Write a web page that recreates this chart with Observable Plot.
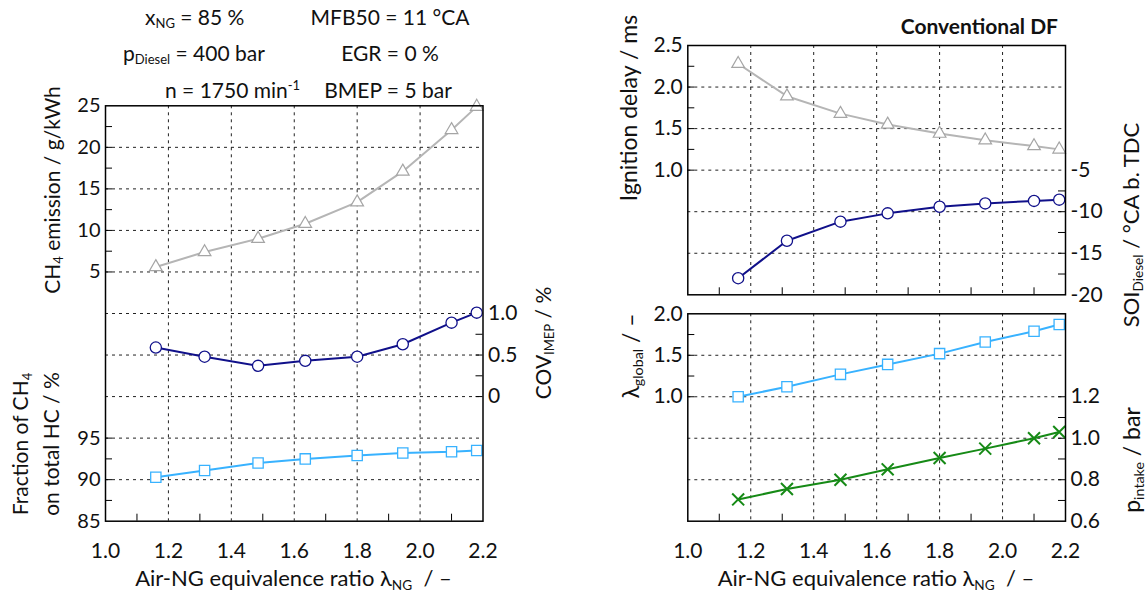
<!DOCTYPE html>
<html><head><meta charset="utf-8">
<script src="https://cdn.jsdelivr.net/npm/d3@7"></script>
<script src="https://cdn.jsdelivr.net/npm/@observablehq/plot@0.6"></script>
<style>
body{margin:0;background:#fff;}
#wrap{position:relative;width:1147px;height:599px;overflow:hidden;font-family:Lato,"Open Sans",sans-serif;color:#111;}
#wrap svg{position:absolute;left:0;top:0;}
.t{position:absolute;white-space:nowrap;font-size:21px;line-height:1;}
.c{transform:translate(-50%,-50%);}
.l{transform:translate(0,-50%);}
.r{transform:translate(-100%,-50%);}
.rot{transform:translate(-50%,-50%) rotate(-90deg);text-align:center;}
sub{font-size:0.62em;vertical-align:-0.3em;line-height:0;}
sup{font-size:0.62em;vertical-align:0.55em;line-height:0;}
</style></head>
<body>
<div id="wrap">
  <div class="t l" style="left:145px;top:16px">x<sub>NG</sub> = 85 %</div>
  <div class="t c" style="left:390px;top:16px">MFB50 = 11 °CA</div>
  <div class="t l" style="left:123px;top:52px">p<sub>Diesel</sub> = 400 bar</div>
  <div class="t c" style="left:390px;top:52px">EGR = 0 %</div>
  <div class="t l" style="left:165px;top:89px">n = 1750 min<sup>-1</sup></div>
  <div class="t c" style="left:388px;top:89px">BMEP = 5 bar</div>
  <div class="t r" style="left:1058px;top:25px;font-weight:bold;font-size:21px">Conventional DF</div>

  <div class="t rot" style="left:51px;top:190px">CH<sub>4</sub> emission / g/kWh</div>
  <div class="t rot" style="left:35px;top:444px;line-height:31px">Fraction of CH<sub>4</sub><br>on total HC / %</div>
  <div class="t rot" style="left:542px;top:343px">COV<sub>IMEP</sub> / %</div>
  <div class="t c" style="left:293.5px;top:578px;font-size:22px">Air-NG equivalence ratio λ<sub>NG</sub> &nbsp;/ –</div>

  <div class="t rot" style="left:628px;top:108px;font-size:23px">Ignition delay / ms</div>
  <div class="t rot" style="left:1131px;top:225px;font-size:22px">SOI<sub>Diesel</sub> / °CA b. TDC</div>
  <div class="t rot" style="left:630px;top:356px;font-size:23px">λ<sub>global</sub> / –</div>
  <div class="t rot" style="left:1131px;top:460px;font-size:23px">p<sub>intake</sub> / bar</div>
  <div class="t c" style="left:876px;top:578px;font-size:22px">Air-NG equivalence ratio λ<sub>NG</sub> &nbsp;/ –</div>
</div>
<script>
// ---- data ----
const lambdaNG      = [1.16, 1.315, 1.485, 1.635, 1.80, 1.945, 2.10, 2.18];
const ch4Emission   = [5.6, 7.4, 9.0, 10.8, 13.4, 17.1, 22.1, 24.9];
const covImep       = [0.59, 0.48, 0.37, 0.43, 0.48, 0.63, 0.89, 1.01];
const ch4Fraction   = [90.3, 91.1, 92.0, 92.5, 92.9, 93.2, 93.35, 93.5];
const ignitionDelay = [2.28, 1.89, 1.68, 1.55, 1.44, 1.36, 1.29, 1.25];
const soiDiesel     = [-18.0, -13.5, -11.2, -10.2, -9.4, -9.0, -8.7, -8.55];
const lambdaGlobal  = [1.0, 1.12, 1.27, 1.39, 1.52, 1.66, 1.79, 1.87];
const pIntake       = [0.705, 0.755, 0.80, 0.85, 0.905, 0.95, 1.0, 1.03];

// ---- ticks ----
const xTicks = [1.0, 1.2, 1.4, 1.6, 1.8, 2.0, 2.2];
const xGrid = [1.2, 1.4, 1.6, 1.8, 2.0];
const xMinor = [1.1, 1.3, 1.5, 1.7, 1.9, 2.1];
const ch4Ticks = [5, 10, 15, 20, 25];
const ch4Grid = [5, 10, 15, 20];
const ch4Minor = [7.5, 12.5, 17.5, 22.5];
const covTicks = [0, 0.5, 1.0];
const covMinor = [0.25, 0.75];
const fracTicks = [85, 90, 95];
const fracGrid = [90, 95];
const fracMinor = [87.5, 92.5];
const idTicks = [1.0, 1.5, 2.0, 2.5];
const idGrid = [1.0, 1.5, 2.0];
const idMinor = [1.25, 1.75, 2.25];
const soiTicks = [-20, -15, -10, -5];
const soiGrid = [-15, -10];
const soiMinor = [-17.5, -12.5, -7.5];
const lgTicks = [1.0, 1.5, 2.0];
const lgGrid = [1.0, 1.5];
const lgMinor = [1.25, 1.75];
const pTicks = [0.6, 0.8, 1.0, 1.2];
const pGrid = [0.8, 1.0];
const pMinor = [0.7, 0.9, 1.1];

// ---- colours ----
const cGray = "#b5b5b5", cGrayM = "#a5a5a5", cNavy = "#10108a", cLight = "#38b2ff", cGreen = "#168a16";

const W = 1147, H = 599;
const leftBox = {l: 105, r: 482.5, t: 105.3, b: 520.7};
const upBox   = {l: 687.3, r: 1065, t: 45, b: 294.3};
const lowBox  = {l: 687.3, r: 1065, t: 313.3, b: 520.7};
const FONT = "Lato, 'Open Sans', sans-serif";
const dash = "3,4";
const gridColor = "#222";

const rows = lambdaNG.map((x, i) => ({x, ch4: ch4Emission[i], cov: covImep[i], frac: ch4Fraction[i],
  id: ignitionDelay[i], soi: soiDiesel[i], lg: lambdaGlobal[i], p: pIntake[i]}));

function layer(box, yDomain, marks) {
  return Plot.plot({
    width: W, height: H,
    marginLeft: box.l, marginRight: W - box.r, marginTop: box.t, marginBottom: H - box.b,
    x: {domain: [1, 2.2], axis: null},
    y: {domain: yDomain, axis: null},
    style: {background: "transparent", fontFamily: FONT, fontSize: "20px", color: "#111", overflow: "visible"},
    marks
  });
}
const pw = b => b.r - b.l, ph = b => b.b - b.t;
const TK = 7;
const leftTicks = (vals, b) => Plot.tickY(vals, {y: d => d, insetRight: pw(b) - TK, stroke: "#000", strokeWidth: 1});
const rightTicks = (vals, b) => Plot.tickY(vals, {y: d => d, insetLeft: pw(b) - TK, stroke: "#000", strokeWidth: 1});
const bottomTicks = (vals, b) => Plot.tickX(vals, {x: d => d, insetTop: ph(b) - TK, stroke: "#000", strokeWidth: 1});
const gridY = vals => Plot.ruleY(vals, {y: d => d, stroke: gridColor, strokeWidth: 1, strokeDasharray: dash});
const gridX = vals => Plot.ruleX(vals, {x: d => d, stroke: gridColor, strokeWidth: 1, strokeDasharray: dash});
const yLab = (vals, anchor, fmt, size = 20) => Plot.axisY(vals, {anchor, label: null, tickSize: 0, tickPadding: 5, tickFormat: fmt, fontSize: size, fill: "#111"});
const xLab = vals => Plot.axisX(vals, {anchor: "bottom", label: null, tickSize: 0, tickPadding: 22, tickFormat: d => d.toFixed(1), fontSize: 21, fill: "#111"});
const f1 = d => d.toFixed(1);
const fCov = d => d === 0 ? "0" : d.toFixed(1);
const fInt = d => String(d);

const wrap = document.getElementById("wrap");

// ---- left panel ----
wrap.append(layer(leftBox, [-25, 25], [
  gridX(xGrid), gridY(ch4Grid),
  leftTicks(ch4Minor, leftBox), leftTicks(ch4Grid, leftBox), bottomTicks(xMinor, leftBox),
  yLab(ch4Ticks, "left", fInt), xLab(xTicks),
  Plot.line(rows, {x: "x", y: "ch4", stroke: cGray, strokeWidth: 2}),
  Plot.dot(rows, {x: "x", y: "ch4", symbol: "triangle", r: 4.7, fill: "white", stroke: cGrayM, strokeWidth: 1.2})
]));
wrap.append(layer(leftBox, [-1.5, 3.5], [
  gridY(covTicks), rightTicks(covMinor, leftBox), rightTicks(covTicks, leftBox),
  yLab(covTicks, "right", fCov, 21),
  Plot.line(rows, {x: "x", y: "cov", stroke: cNavy, strokeWidth: 2}),
  Plot.dot(rows, {x: "x", y: "cov", symbol: "circle", r: 5.6, fill: "white", stroke: cNavy, strokeWidth: 1.3})
]));
wrap.append(layer(leftBox, [85, 135], [
  gridY(fracGrid), leftTicks(fracMinor, leftBox), leftTicks(fracGrid, leftBox),
  yLab(fracTicks, "left", fInt),
  Plot.line(rows, {x: "x", y: "frac", stroke: cLight, strokeWidth: 2}),
  Plot.dot(rows, {x: "x", y: "frac", symbol: "square", r: 5.8, fill: "white", stroke: cLight, strokeWidth: 1.3}),
  Plot.frame({stroke: "#000", strokeWidth: 1.5})
]));

// ---- right upper panel ----
wrap.append(layer(upBox, [-0.5, 2.5], [
  gridX(xGrid), gridY(idGrid),
  leftTicks(idMinor, upBox), leftTicks(idGrid, upBox), bottomTicks(xMinor, upBox),
  yLab(idTicks, "left", f1, 21),
  Plot.line(rows, {x: "x", y: "id", stroke: cGray, strokeWidth: 2}),
  Plot.dot(rows, {x: "x", y: "id", symbol: "triangle", r: 4.7, fill: "white", stroke: cGrayM, strokeWidth: 1.2})
]));
wrap.append(layer(upBox, [-20, 10], [
  gridY(soiGrid), rightTicks(soiMinor, upBox), rightTicks(soiGrid, upBox),
  yLab(soiTicks, "right", fInt, 21),
  Plot.line(rows, {x: "x", y: "soi", stroke: cNavy, strokeWidth: 2}),
  Plot.dot(rows, {x: "x", y: "soi", symbol: "circle", r: 5.6, fill: "white", stroke: cNavy, strokeWidth: 1.3}),
  Plot.frame({stroke: "#000", strokeWidth: 1.5})
]));

// ---- right lower panel ----
wrap.append(layer(lowBox, [-0.5, 2.0], [
  gridX(xGrid), gridY(lgGrid),
  leftTicks(lgMinor, lowBox), leftTicks(lgGrid, lowBox), bottomTicks(xMinor, lowBox),
  yLab(lgTicks, "left", f1, 21), xLab(xTicks),
  Plot.line(rows, {x: "x", y: "lg", stroke: cLight, strokeWidth: 2}),
  Plot.dot(rows, {x: "x", y: "lg", symbol: "square", r: 5.8, fill: "white", stroke: cLight, strokeWidth: 1.3})
]));
wrap.append(layer(lowBox, [0.6, 1.6], [
  gridY(pGrid), rightTicks(pMinor, lowBox), rightTicks(pTicks.slice(1), lowBox),
  yLab(pTicks, "right", f1, 21),
  Plot.line(rows, {x: "x", y: "p", stroke: cGreen, strokeWidth: 2}),
  Plot.dot(rows, {x: "x", y: "p", symbol: "times", r: 5.5, stroke: cGreen, strokeWidth: 2}),
  Plot.frame({stroke: "#000", strokeWidth: 1.5})
]));
</script>
</body></html>
